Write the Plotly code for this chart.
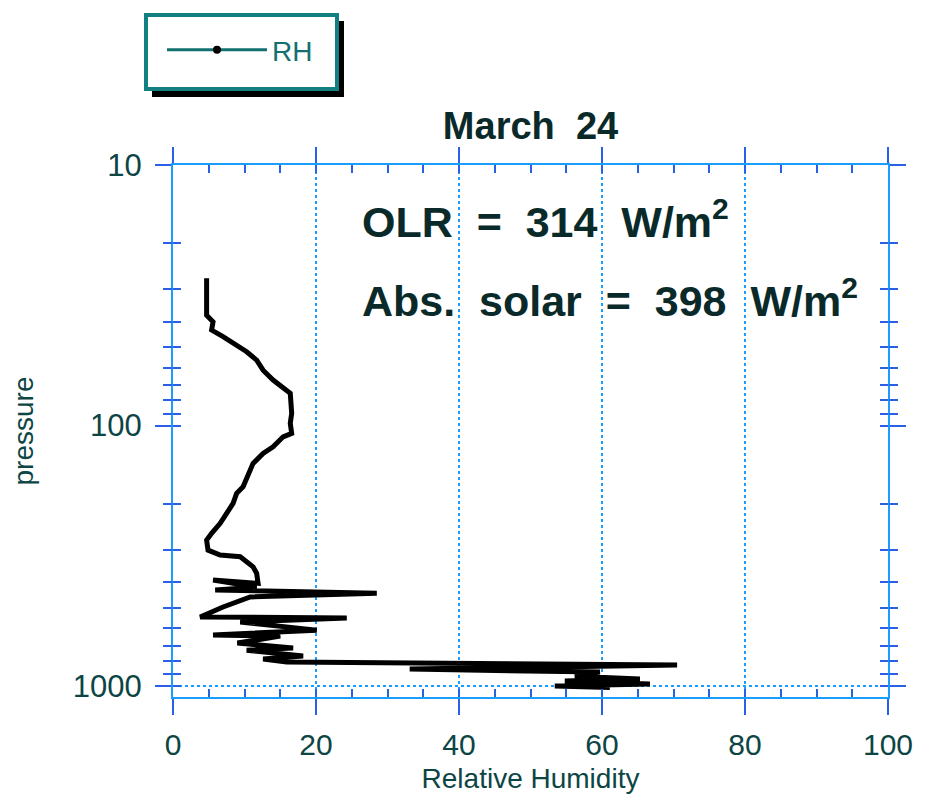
import plotly.graph_objects as go

# Relative humidity profile (RH %, pressure hPa), read top to bottom
rh = [4.7, 4.7, 5.6, 5.4, 7.0, 8.9, 10.3, 11.7, 12.6, 14.0, 15.4, 16.4, 16.6, 16.4, 16.6,
      15.4, 14.0, 12.6, 11.2, 10.3, 9.8, 8.9, 8.4, 7.5, 6.6, 5.4, 4.7, 4.9, 6.6, 9.4,
      10.3, 11.2, 11.7, 11.9, 5.6, 11.7, 5.9, 28.5, 10.8, 7.0, 3.8, 24.3, 9.4, 20.1, 5.6,
      15.0, 9.0, 16.8, 10.3, 18.2, 12.6, 15.9, 70.5, 33.1, 59.7, 56.2, 65.3, 54.8, 66.7,
      53.4, 61.1]
pressure = [27.2, 37.7, 40.0, 43.0, 45.6, 49.1, 52.1, 56.1, 61.3, 66.9, 72.0, 75.2, 89.7, 98.1, 107.2,
            110.5, 120.6, 127.9, 139.7, 157.3, 171.9, 182.1, 199.0, 217.4, 237.3, 259.2, 275.2, 300.8, 314.3, 319.0,
            333.4, 348.5, 369.2, 403.5, 392, 417, 428, 440, 455, 497, 543, 548, 568, 610, 637,
            643, 684, 715, 728, 767, 788, 809, 831, 861, 884, 916, 940, 957, 982,
            1000, 1012]

series_name = "RH"
title_text = "March  24"
olr_text = "OLR  =  314  W/m<sup>2</sup>"
solar_text = "Abs.  solar  =  398  W/m<sup>2</sup>"
x_title = "Relative Humidity"
y_title = "pressure"
x_ticks = [0, 20, 40, 60, 80, 100]
y_major = [10, 100, 1000]
y_minor = [20, 30, 40, 50, 60, 70, 80, 90, 200, 300, 400, 500, 600, 700, 800, 900]
y_all = sorted(y_major + y_minor)

LINE = "#1a9dff"
TICK = "#2a5fe8"
TXT = "#0d4545"
DARK = "#0a2a2a"
FONT = "Liberation Sans"
YR = [3.042, 1.0]
XR = [0, 100]

W, H = 919, 792
ML, MR, MT, MB = 165, 39, 157, 103
PW, PH = W - ML - MR, H - MT - MB


def px(xp):
    return (xp - 8 - ML) / PW


def py(yp):
    return (H - MB - (yp - 8)) / PH


fig = go.Figure()
fig.add_trace(go.Scatter(x=rh, y=pressure, mode="lines", line=dict(color="black", width=5),
                         showlegend=False, name=series_name))
fig.add_trace(go.Scatter(x=[None], y=[None], mode="lines+markers", name=series_name,
                         line=dict(color="#137070", width=3),
                         marker=dict(color="black", size=8, symbol="circle")))
# helper traces so that the overlay tick axes get drawn
for xa, ya in [("x2", "y"), ("x", "y2"), ("x", "y3"), ("x", "y4")]:
    fig.add_trace(go.Scatter(x=[None], y=[None], xaxis=xa, yaxis=ya, showlegend=False,
                             hoverinfo="skip", mode="lines"))

fig.update_layout(
    width=W, height=H,
    margin=dict(l=ML, r=MR, t=MT, b=MB),
    paper_bgcolor="white", plot_bgcolor="white",
    font=dict(family=FONT, color=TXT),
    title=dict(text="<b>" + title_text + "</b>", x=0.5, xref="paper", xanchor="center",
               y=1 - (126 - 8) / H, yref="container", yanchor="middle",
               font=dict(size=38, color=DARK, family=FONT)),
    xaxis=dict(range=XR, tickvals=x_ticks, ticks="outside", ticklen=16, tickwidth=2, tickcolor=TICK,
               showline=True, linecolor=LINE, linewidth=2, mirror="ticks",
               showgrid=True, gridcolor=LINE, griddash="dot", gridwidth=2, zeroline=False,
               tickfont=dict(size=30, color=TXT), ticklabelstandoff=4,
               title=dict(text=x_title, font=dict(size=28, color=TXT), standoff=8)),
    xaxis2=dict(range=XR, overlaying="x", anchor="y", side="bottom", dtick=5, tick0=0,
                ticks="inside", ticklen=8, tickwidth=2, tickcolor=TICK, mirror="ticks",
                showline=False, showgrid=False, zeroline=False, showticklabels=False),
    yaxis=dict(type="log", range=YR, tickvals=y_major, ticktext=[str(v) for v in y_major],
               ticks="outside", ticklen=16, tickwidth=2, tickcolor=TICK,
               showline=True, linecolor=LINE, linewidth=2, mirror="ticks",
               showgrid=False, zeroline=False,
               tickfont=dict(size=31, color=TXT), ticklabelstandoff=7,
               title=dict(text=y_title, font=dict(size=28, color=TXT), standoff=31)),
    yaxis2=dict(type="log", range=YR, overlaying="y", anchor="x", side="left", tickvals=y_all,
                ticks="inside", ticklen=8, tickwidth=2, tickcolor=TICK, mirror="ticks",
                showline=False, showgrid=False, zeroline=False, showticklabels=False),
    yaxis3=dict(type="log", range=YR, overlaying="y", anchor="x", side="left", tickvals=y_minor,
                ticks="outside", ticklen=9, tickwidth=2, tickcolor=TICK, mirror="ticks",
                showline=False, showgrid=False, zeroline=False, showticklabels=False),
    yaxis4=dict(type="log", range=YR, overlaying="y", anchor="x", side="left", tickvals=[1000],
                ticks="", showline=False, showgrid=True, gridcolor=LINE, griddash="dot", gridwidth=2,
                zeroline=False, showticklabels=False),
    legend=dict(x=px(162), xanchor="left", y=py(50), yanchor="middle",
                bgcolor="rgba(0,0,0,0)", borderwidth=0, itemwidth=100,
                font=dict(size=28, color="#137070", family=FONT)),
    showlegend=True,
)

# legend frame with drop shadow
fig.add_shape(type="rect", xref="paper", yref="paper",
              x0=px(152), x1=px(344), y0=py(97), y1=py(21),
              fillcolor="black", line=dict(width=0))
fig.add_shape(type="rect", xref="paper", yref="paper",
              x0=px(146), x1=px(337), y0=py(89), y1=py(15),
              fillcolor="white", line=dict(color="#128080", width=4))

fig.add_annotation(text="<b>" + olr_text + "</b>", xref="paper", yref="paper",
                   x=px(360), y=py(219), xanchor="left", yanchor="middle",
                   showarrow=False, font=dict(size=43, color=DARK, family=FONT))
fig.add_annotation(text="<b>" + solar_text + "</b>", xref="paper", yref="paper",
                   x=px(360), y=py(298), xanchor="left", yanchor="middle",
                   showarrow=False, font=dict(size=43, color=DARK, family=FONT))

fig.write_html("out.html")
